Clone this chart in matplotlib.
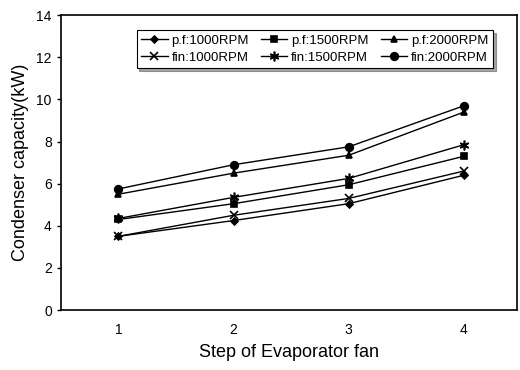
import matplotlib.pyplot as plt

plt.rcParams["font.family"] = ["Liberation Sans", "DejaVu Sans"]

steps = [1, 2, 3, 4]
pf_1000 = [3.5, 4.25, 5.05, 6.4]
pf_1500 = [4.3, 5.05, 5.95, 7.3]
pf_2000 = [5.5, 6.5, 7.35, 9.4]
fin_1000 = [3.5, 4.5, 5.3, 6.6]
fin_1500 = [4.35, 5.35, 6.25, 7.85]
fin_2000 = [5.75, 6.9, 7.75, 9.7]

# ordered column-wise so the 3-column legend reads p.f on top, fin below
series = [
    ("p.f:1000RPM", pf_1000, "D", 3.5),
    ("fin:1000RPM", fin_1000, "x", 6),
    ("p.f:1500RPM", pf_1500, "s", 5),
    ("fin:1500RPM", fin_1500, (6, 2, 0), 7),
    ("p.f:2000RPM", pf_2000, "^", 5),
    ("fin:2000RPM", fin_2000, "o", 5.5),
]

fig = plt.figure(figsize=(5.2, 3.7), dpi=100)
ax = fig.add_axes([0.117, 0.162, 0.877, 0.797])

for label, vals, mk, ms in series:
    ax.plot(steps, vals, color="black", linewidth=1.0, marker=mk, markersize=ms,
            markeredgewidth=1.2, label=label)

ax.set_xlim(0.5, 4.46)
ax.set_ylim(0, 14)
ax.set_yticks(range(0, 15, 2))
ax.set_xticks(steps)
ax.tick_params(axis="both", labelsize=10, length=3, width=1)
ax.tick_params(axis="x", length=0, pad=9)
for sp in ax.spines.values():
    sp.set_linewidth(1.2)

ax.set_ylabel("Condenser capacity(kW)", fontsize=13, labelpad=5)
ax.set_xlabel("Step of Evaporator fan", fontsize=13, labelpad=5)

leg = ax.legend(ncol=3, loc="upper center", bbox_to_anchor=(0.557, 0.972),
                fontsize=9.5, frameon=True, fancybox=False, shadow=True,
                handlelength=2.0, handletextpad=0.3, columnspacing=0.9,
                borderpad=0.35, labelspacing=0.35)
leg.get_frame().set_edgecolor("black")
leg.get_frame().set_linewidth(0.8)

fig.savefig("out.png", dpi=100)
